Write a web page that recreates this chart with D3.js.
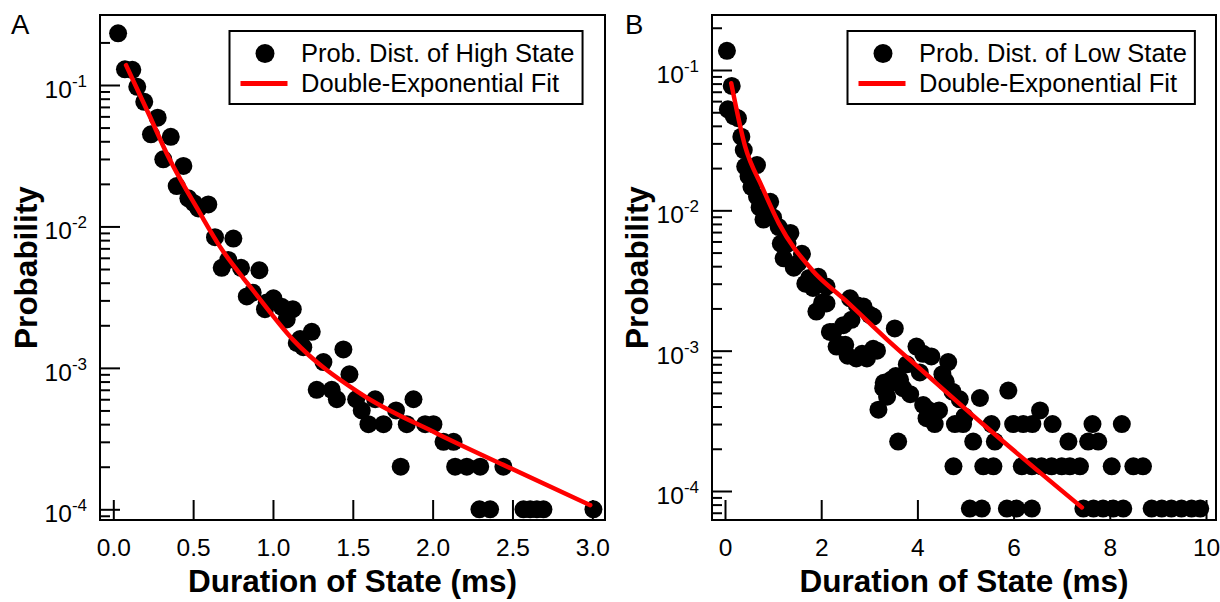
<!DOCTYPE html>
<html>
<head>
<meta charset="utf-8">
<script src="https://cdn.jsdelivr.net/npm/d3@7"></script>
<style>
  body { margin: 0; background: #fff; }
  svg { display: block; font-family: "Liberation Sans", Arial, sans-serif; }
</style>
</head>
<body>
<script>
// panel A - high state dwell times (ms, probability)
const highX = [0.03, 0.073, 0.119, 0.15, 0.194, 0.236, 0.278, 0.313, 0.36, 0.397, 0.439, 0.47, 0.505, 0.533, 0.595,
  0.637, 0.679, 0.72, 0.752, 0.80, 0.836, 0.873, 0.915, 0.95, 0.961, 1.003, 1.055, 1.086, 1.124, 1.149, 1.17, 1.19,
  1.243, 1.274, 1.316, 1.368, 1.40, 1.441, 1.479, 1.521, 1.556, 1.598, 1.64, 1.692, 1.771, 1.80, 1.838, 1.88, 1.953,
  2.005, 2.068, 2.131, 2.141, 2.214, 2.298, 2.443, 2.293, 2.36, 2.569, 2.611, 2.653, 2.694, 3.007];
const highP = [0.232, 0.129, 0.128, 0.097, 0.076, 0.0448, 0.0587, 0.0298, 0.043, 0.0193, 0.0268, 0.0158, 0.0146, 0.0134, 0.0143,
  0.0084, 0.0051, 0.0058, 0.0082, 0.0051, 0.0032, 0.0034, 0.0049, 0.0026, 0.0029, 0.0031, 0.0027, 0.0022, 0.0026, 0.0015, 0.0016, 0.0014,
  0.0018, 0.0007, 0.0011, 0.0007, 0.0006, 0.00135, 0.0009, 0.0006, 0.0005, 0.0004, 0.0006, 0.0004, 0.0005, 0.0002, 0.0004, 0.0006, 0.0004,
  0.0004, 0.0003, 0.0003, 0.0002, 0.0002, 0.0002, 0.0002, 0.0001, 0.0001, 0.0001, 0.0001, 0.0001, 0.0001, 0.0001];
const highFitX = [0.08, 0.23, 0.334, 0.543, 0.668, 0.815, 0.857, 1.128, 1.546, 2.026, 2.443, 2.987];
const highFitP = [0.138, 0.0597, 0.0329, 0.0124, 0.0072, 0.0043, 0.00375, 0.00157, 0.00066, 0.000344, 0.000206, 0.000107];

// panel B - low state dwell times
const lowX = [0.04, 0.14, 0.06, 0.18, 0.27, 0.34, 0.39, 0.42, 0.49, 0.55, 0.665, 0.665, 0.72, 0.80, 0.87, 0.94, 1.0,
  1.116, 1.16, 1.22, 1.30, 1.36, 1.43, 1.52, 1.6, 1.67, 1.75, 1.83, 1.9, 1.94, 2.02, 2.11, 2.11, 2.18, 2.25, 2.32,
  2.39, 2.46, 2.5, 2.6, 2.63, 2.74, 2.73, 2.81, 2.88, 2.95, 3.01, 3.08, 3.08, 3.16, 3.19, 3.29, 3.3, 3.37, 3.45,
  3.53, 3.6, 3.64, 3.7, 3.78, 3.85, 3.98, 4.05, 4.12, 4.12, 4.19, 4.22, 4.29, 4.36, 4.45, 4.52, 4.59, 4.64, 4.73,
  4.75, 4.78, 4.88, 4.95, 4.98, 5.09, 5.16, 5.30, 5.34, 5.37, 5.54, 5.58, 5.61, 5.86, 5.89, 5.99, 6.06, 6.17, 6.2,
  6.38, 6.38, 6.39, 6.55, 6.58, 6.79, 6.81, 7.0, 7.14, 7.17, 7.38, 7.45, 7.55, 7.64, 7.66, 7.76, 7.86, 8.04, 8.07,
  8.25, 8.28, 8.49, 8.69, 8.87, 9.08, 9.28, 9.49, 9.70, 9.88, 3.42, 3.55, 2.55, 2.85];
const lowP = [0.137, 0.077, 0.0525, 0.047, 0.0453, 0.0335, 0.0269, 0.0205, 0.0175, 0.0147, 0.021, 0.0125, 0.0105, 0.0086, 0.0098, 0.0115, 0.0089,
  0.0076, 0.0058, 0.00455, 0.0058, 0.0069, 0.0039, 0.0042, 0.0049, 0.0030, 0.0033, 0.0028, 0.0019, 0.00336, 0.0022, 0.00286, 0.00217, 0.00136, 0.00136, 0.00107,
  0.0011, 0.00152, 0.0011, 0.00236, 0.00166, 0.00211, 0.00088, 0.00206, 0.00206, 0.00088, 0.0018, 0.00175, 0.00103, 0.001, 0.00038, 0.00054, 0.00059, 0.00047, 0.00062,
  0.00144, 0.000225, 0.00062, 0.00054, 0.0008, 0.00049, 0.00107, 0.0007, 0.00095, 0.00041, 0.00033, 0.00038, 0.00091, 0.0003, 0.000375, 0.00068, 0.0006, 0.00083, 0.00051,
  0.00015, 0.0003, 0.00045, 0.0003, 0.00034, 0.000075, 0.000225, 0.00046, 0.000075, 0.00015, 0.0003, 0.00015, 0.000225, 0.000075, 0.00052, 0.0003, 0.000075, 0.00015, 0.0003,
  0.00015, 0.000075, 0.0003, 0.000375, 0.00015, 0.00015, 0.0003, 0.00015, 0.000225, 0.00015, 0.00015, 0.000075, 0.000225, 0.0003, 0.000075, 0.000225, 0.000075, 0.00015, 0.000075,
  0.0003, 0.000075, 0.00015, 0.00015, 0.000075, 0.000075, 0.000075, 0.000075, 0.000075, 0.000075, 0.00058, 0.00066, 0.00092, 0.00095];
const lowFitX = [0.13, 0.42, 0.77, 1.12, 1.81, 2.5, 3.37, 4.12, 5.36, 7.42];
const lowFitP = [0.0804, 0.0284, 0.0147, 0.00807, 0.00376, 0.00229, 0.0012, 0.00071, 0.0003, 0.0000764];

// axes
const xTicksA = [0, 0.5, 1, 1.5, 2, 2.5, 3];
const xTicksB = [0, 2, 4, 6, 8, 10];
const yMajor = [1e-4, 1e-3, 1e-2, 1e-1];
const yExp = ['-4', '-3', '-2', '-1'];
const legendA = ['Prob. Dist. of High State', 'Double-Exponential Fit'];
const legendB = ['Prob. Dist. of Low State', 'Double-Exponential Fit'];

const svg = d3.select('body').append('svg')
  .attr('width', 1220)
  .attr('height', 602);

function drawPanel(o) {
  const g = svg.append('g');
  const x = d3.scaleLinear().domain(o.xDom).range(o.xRange);
  const y = d3.scaleLog().domain([1e-4, 1e-1]).range(o.yRange);

  //frame
  g.append('rect')
    .attr('x', o.L).attr('y', o.T)
    .attr('width', o.R - o.L).attr('height', o.B - o.T)
    .attr('fill', 'none').attr('stroke', '#000').attr('stroke-width', 2);

  // minor y ticks: 2..9 of each decade that fall inside the frame
  let minor = [];
  for (let e = -5; e <= 0; e++) {
    for (let m = 2; m <= 9; m++) {
      const v = m * Math.pow(10, e);
      const py = y(v);
      if (py > o.T + 4 && py < o.B - 3) minor.push(v);
    }
  }

  const yMinAxis = g.append('g')
    .attr('transform', `translate(${o.L},0)`)
    .call(d3.axisLeft(y).tickValues(minor).tickSize(-10).tickFormat(''));
  const yMajAxis = g.append('g')
    .attr('transform', `translate(${o.L},0)`)
    .call(d3.axisLeft(y).tickValues(yMajor).tickSize(-20).tickFormat(''));

  const xAxis = g.append('g')
    .attr('transform', `translate(0,${o.B})`)
    .call(d3.axisBottom(x).tickValues(o.xTicks).tickSize(-20).tickFormat(o.xFmt));

  [yMinAxis, yMajAxis, xAxis].forEach(a => {
    a.select('.domain').remove();
    a.selectAll('line').attr('stroke', '#000').attr('stroke-width', 2);
  });
  xAxis.selectAll('text')
    .attr('y', 36).attr('dy', null)
    .attr('font-size', 24.5).attr('fill', '#000')
    .attr('font-family', '"Liberation Sans", Arial, sans-serif');

  // y labels 10^n
  const yl = g.selectAll('.ylab').data(yMajor).enter().append('text')
    .attr('class', 'ylab')
    .attr('x', o.L - 13)
    .attr('y', d => y(d) + 13)
    .attr('text-anchor', 'end')
    .attr('font-size', 24.5);
  yl.append('tspan').text('10');
  yl.append('tspan').attr('dy', -11).attr('font-size', 17).text((d, i) => yExp[i]);

  // data points
  g.selectAll('.dot').data(o.xs).enter().append('circle')
    .attr('class', 'dot')
    .attr('cx', d => x(d))
    .attr('cy', (d, i) => y(o.ps[i]))
    .attr('r', 9)
    .attr('fill', '#000');

  // fit curve
  const line = d3.line()
    .x(d => x(d[0]))
    .y(d => y(d[1]))
    .curve(d3.curveMonotoneX);
  g.append('path')
    .datum(o.fitX.map((v, i) => [v, o.fitP[i]]))
    .attr('d', line)
    .attr('fill', 'none')
    .attr('stroke', '#ff0000')
    .attr('stroke-width', 4.5)
    .attr('stroke-linecap', 'round');

  // legend
  const lg = g.append('g').attr('transform', `translate(${o.legX},31)`);
  const box = lg.append('rect')
    .attr('x', 0).attr('y', 0).attr('height', 73)
    .attr('fill', '#fff').attr('stroke', '#000').attr('stroke-width', 2);
  lg.append('circle').attr('cx', 35.5).attr('cy', 22.5).attr('r', 9.5).attr('fill', '#000');
  lg.append('line').attr('x1', 11).attr('x2', 58).attr('y1', 52.5).attr('y2', 52.5)
    .attr('stroke', '#ff0000').attr('stroke-width', 5);
  const t1 = lg.append('text').attr('x', 71.5).attr('y', 31).attr('font-size', 25.5).text(o.legend[0]);
  const t2 = lg.append('text').attr('x', 71.5).attr('y', 61).attr('font-size', 25.5).text(o.legend[1]);
  const w = Math.max(t1.node().getComputedTextLength(), t2.node().getComputedTextLength());
  box.attr('width', 71.5 + w + 8);

  // titles
  g.append('text')
    .attr('x', (o.L + o.R) / 2).attr('y', 592)
    .attr('text-anchor', 'middle')
    .attr('font-size', 31.5).attr('font-weight', 'bold')
    .text('Duration of State (ms)');
  g.append('text')
    .attr('transform', `translate(${o.yTitleX},${(o.T + o.B) / 2}) rotate(-90)`)
    .attr('text-anchor', 'middle')
    .attr('font-size', 31.5).attr('font-weight', 'bold')
    .text('Probability');
  g.append('text')
    .attr('x', o.tagX).attr('y', 34)
    .attr('font-size', 27.5)
    .text(o.tag);
}

drawPanel({
  tag: 'A', tagX: 11,
  L: 100, R: 605, T: 15, B: 520,
  xDom: [0, 3], xRange: [113.3, 592.3],
  yRange: [509.3, 85],
  xTicks: xTicksA, xFmt: d3.format('.1f'),
  xs: highX, ps: highP, fitX: highFitX, fitP: highFitP,
  legend: legendA, legX: 229.5, yTitleX: 37
});

drawPanel({
  tag: 'B', tagX: 625,
  L: 712, R: 1216, T: 15, B: 520,
  xDom: [0, 10], xRange: [725, 1206],
  yRange: [491, 70],
  xTicks: xTicksB, xFmt: d3.format('d'),
  xs: lowX, ps: lowP, fitX: lowFitX, fitP: lowFitP,
  legend: legendB, legX: 847.5, yTitleX: 648
});
</script>
</body>
</html>
